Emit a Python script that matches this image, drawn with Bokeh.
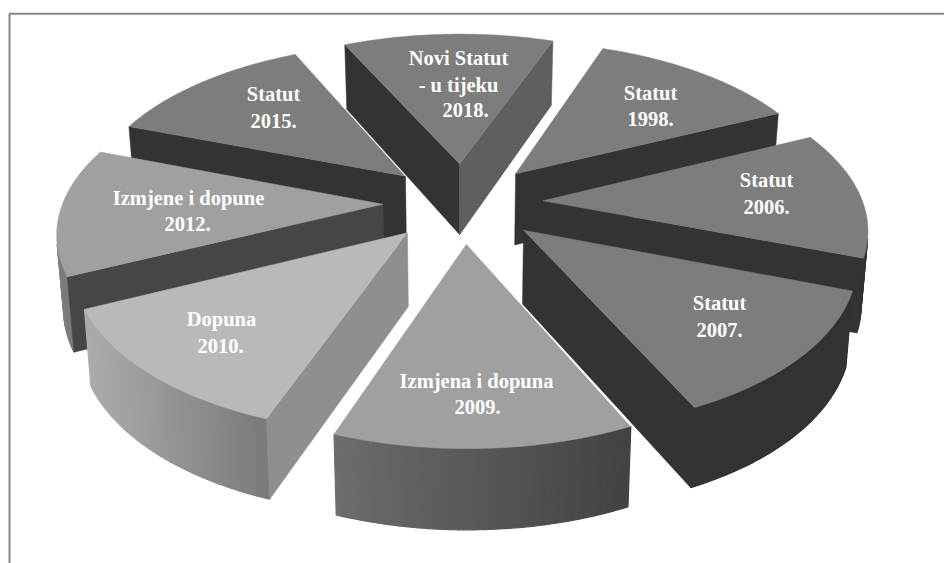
import numpy as np
from bokeh.plotting import figure
from bokeh.models import Range1d
from bokeh.core.properties import value
from bokeh.embed import file_html
from bokeh.resources import INLINE

# ---- data -------------------------------------------------------------
categories = ["Novi Statut 2018", "Statut 1998", "Statut 2006", "Statut 2007",
              "Izmjena i dopuna 2009", "Dopuna 2010", "Izmjene i dopune 2012", "Statut 2015"]
shares = [1, 1, 1, 1, 1, 1, 1, 1]
explode = [0.25] * 8
first_angle = 335.0

labels = [["Novi Statut", "- u tijeku", "2018."],
          ["Statut", "1998."],
          ["Statut", "2006."],
          ["Statut", "2007."],
          ["Izmjena i dopuna", "2009."],
          ["Dopuna", "2010."],
          ["Izmjene i dopune", "2012."],
          ["Statut", "2015."]]

# ---- styles per slice: top, start-cut, end-cut, outer (left, right) greys
top_grey = [125, 125, 125, 125, 160, 185, 160, 125]
cut0_grey = [51, 51, 51, 51, 51, 143, 70, 51]
cut1_grey = [95, 51, 51, 51, 51, 51, 51, 51]
outer_grey = [(125, 125), (51, 51), (51, 51), (51, 51), (108, 66), (172, 122), (125, 110), (51, 51)]
draw_order = [1, 0, 7, 2, 6, 3, 5, 4]
label_pos = [[(458, 57), (458, 84), (465, 109)],
             [(650, 92), (650, 118)],
             [(766, 179), (766, 206)],
             [(719, 302), (719, 329)],
             [(476, 380), (477, 406)],
             [(221, 318), (220, 345)],
             [(188, 197), (187, 223)],
             [(273, 93), (273, 120)]]

# ---- projection ---------------------------------------------------------
CX, CY, A, B, Q = 462.5, 202.0, 320.0, 160.0, 0.15
H0, H1, SHRINK = 72.5, 7.0, 0.983


def project(X, Y, bottom=False):
    X, Y = np.asarray(X, float), np.asarray(Y, float)
    p = 1.0 / (1.0 + Q * Y)
    sx = A * X * p
    sy = CY - B * Y * p
    if bottom:
        sx = sx * SHRINK
        sy = sy + (H0 - H1 * Y)
    return CX + sx, sy


def css(g):
    g = int(round(g))
    return f"#{g:02x}{g:02x}{g:02x}"


def area(xs, ys):
    xs, ys = np.asarray(xs), np.asarray(ys)
    return 0.5 * np.sum(xs * np.roll(ys, -1) - np.roll(xs, -1) * ys)


p = figure(width=944, height=563, output_backend="svg", toolbar_location=None,
           x_range=Range1d(0, 944), y_range=Range1d(563, 0), min_border=0)
p.axis.visible = False
p.grid.visible = False
p.outline_line_color = None
p.background_fill_color = "white"
p.border_fill_color = "white"

# frame
p.line([9, 9, 944], [563, 13.3, 13.3], line_color="#868686", line_width=2)

total = float(sum(shares))
edges = first_angle + np.concatenate([[0], np.cumsum(shares)]) * 360.0 / total

for i in draw_order:
    a0, a1 = np.radians(edges[i]), np.radians(edges[i + 1])
    mid = 0.5 * (a0 + a1)
    ox, oy = explode[i] * np.sin(mid), explode[i] * np.cos(mid)
    ang = np.linspace(a0, a1, 61)
    X, Y = ox + np.sin(ang), oy + np.cos(ang)

    tx, ty = project(X, Y)
    bx, by = project(X, Y, bottom=True)
    ax_t, ay_t = project(ox, oy)
    ax_b, ay_b = project(ox, oy, bottom=True)

    # outer wall, in strips, only where it faces the viewer
    gl, gr = outer_grey[i]
    xmin, xmax = tx.min(), tx.max()
    for k in range(len(ang) - 1):
        xs = [tx[k], tx[k + 1], bx[k + 1], bx[k]]
        ys = [ty[k], ty[k + 1], by[k + 1], by[k]]
        if area(xs, ys) > 0:
            continue
        t = (0.5 * (tx[k] + tx[k + 1]) - xmin) / max(xmax - xmin, 1)
        c = css(gl + (gr - gl) * t)
        p.patch(xs, ys, fill_color=c, line_color=c, line_width=1.2)

    # cut faces
    xs0 = [float(ax_t), tx[0], bx[0], float(ax_b)]
    ys0 = [float(ay_t), ty[0], by[0], float(ay_b)]
    xs1 = [float(ax_t), tx[-1], bx[-1], float(ax_b)]
    ys1 = [float(ay_t), ty[-1], by[-1], float(ay_b)]
    if area(xs0, ys0) < 0:
        c = css(cut0_grey[i])
        p.patch(xs0, ys0, fill_color=c, line_color=c, line_width=0.5)
    if area(xs1, ys1) > 0:
        c = css(cut1_grey[i])
        p.patch(xs1, ys1, fill_color=c, line_color=c, line_width=0.5)

    # top
    c = css(top_grey[i])
    p.patch([float(ax_t), *tx], [float(ay_t), *ty], fill_color=c, line_color=c, line_width=0.5)

    # hairline where this top overlaps the neighbouring dark wall
    if categories[i] in ("Statut 2015",):
        p.line([float(ax_t), tx[-1]], [float(ay_t), ty[-1]], line_color="white", line_width=0.8)
    if categories[i] in ("Izmjena i dopuna 2009",):
        p.line([float(ax_t), tx[0]], [float(ay_t), ty[0]], line_color="white", line_width=0.8)

# labels
lx, ly, lt = [], [], []
for lines, pos in zip(labels, label_pos):
    for s, (x, y) in zip(lines, pos):
        lx.append(x); ly.append(y); lt.append(s)
p.text(lx, ly, text=lt, text_color="white", text_align="center", text_baseline="middle",
       text_font=value("Liberation Serif"), text_font_style="bold", text_font_size="20.5px")

open("out.html", "w").write(file_html(p, INLINE))
